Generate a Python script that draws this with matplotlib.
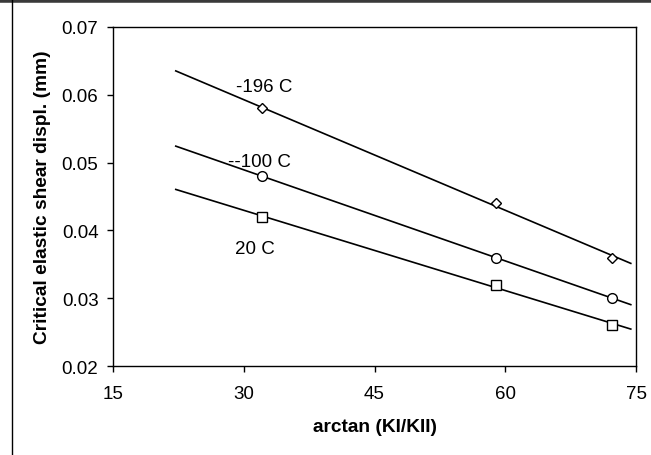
import numpy as np
import matplotlib.pyplot as plt
from matplotlib.lines import Line2D

plt.rcParams['font.family'] = ['Liberation Sans', 'DejaVu Sans']

# data
angle = [32.1, 58.9, 72.3]
displ_m196 = [0.058, 0.044, 0.036]
displ_m100 = [0.048, 0.036, 0.030]
displ_20 = [0.042, 0.032, 0.026]
series = [("-196 C", displ_m196, "D", 5.5),
          ("--100 C", displ_m100, "o", 7),
          ("20 C", displ_20, "s", 7.5)]
label_pos = {"-196 C": (32.4, 0.0612), "--100 C": (31.8, 0.0501), "20 C": (31.3, 0.0373)}
trend_x = np.array([22.2, 74.4])

fig = plt.figure(figsize=(6.51, 4.56), dpi=100)
ax = fig.add_axes([0.1736, 0.195, 0.8034, 0.7436])

for name, vals, mk, ms in series:
    coef = np.polyfit(angle, vals, 1)
    ax.plot(trend_x, np.polyval(coef, trend_x), color='black', lw=1.2)
    ax.plot(angle, vals, linestyle='none', marker=mk, ms=ms, mfc='white',
            mec='black', mew=1.0)
    ax.text(*label_pos[name], name, fontsize=13.5, ha='center', va='center')

ax.set_xlim(15, 75)
ax.set_ylim(0.02, 0.07)
ax.set_xticks([15, 30, 45, 60, 75])
ax.set_yticks([0.02, 0.03, 0.04, 0.05, 0.06, 0.07])
ax.set_yticklabels(["0.02", "0.03", "0.04", "0.05", "0.06", "0.07"])
ax.tick_params(direction='out', length=4.5, width=1, labelsize=13.5)
ax.tick_params(axis='x', pad=9)
ax.tick_params(axis='y', pad=6)
for s in ax.spines.values():
    s.set_linewidth(1)
ax.set_xlabel("arctan (KI/KII)", fontsize=13.8, fontweight='bold', labelpad=12)
ax.set_ylabel("Critical elastic shear displ. (mm)", fontsize=13.8,
              fontweight='bold', labelpad=8)

# outer frame of the figure
fig.add_artist(Line2D([0, 1], [0.997, 0.997], transform=fig.transFigure,
                      color='#3a3a3a', lw=4))
fig.add_artist(Line2D([12 / 651, 12 / 651], [0, 1], transform=fig.transFigure,
                      color='black', lw=1))

fig.savefig("out.png", dpi=100)
